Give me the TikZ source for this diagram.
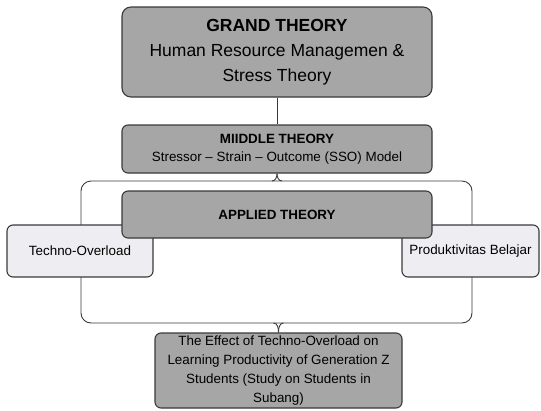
\documentclass[tikz,border=0pt]{standalone}
\usepackage{fontspec}
\setmainfont{Liberation Sans}
\definecolor{darkfill}{HTML}{A6A6A6}
\definecolor{lightfill}{HTML}{EEEEF2}
\definecolor{edge}{HTML}{3A3A3A}
\tikzset{
  box/.style={draw=edge, line width=1.1pt, fill=darkfill, rounded corners=6pt, inner sep=0pt, align=center, text=black},
  lightbox/.style={box, fill=lightfill},
  brace/.style={draw=edge, line width=0.9pt},
  big/.style={font=\fontsize{17.5}{25}\selectfont},
  small/.style={font=\fontsize{13.4}{18.3}\selectfont},
}
\begin{document}
\begin{tikzpicture}[x=1pt,y=-1pt]
\useasboundingbox (0,0) rectangle (541,410);
% brace behind everything
\coordinate (tl) at (81,181);
\coordinate (br) at (472,323);
\draw[brace, rounded corners=10pt] (tl) rectangle (br);
\node[box, big, rounded corners=9pt, minimum width=310pt, minimum height=90pt] (grand) at (277,52)
  {\textbf{GRAND THEORY}\\Human Resource Managemen \&\\Stress Theory};
\node[box, small, minimum width=310pt, minimum height=48pt] (middle) at (277,149)
  {\textbf{MIIDDLE THEORY}\\Stressor – Strain – Outcome (SSO) Model};
\node[box, small, minimum width=247pt, minimum height=75pt, font=\fontsize{13.4}{19.3}\selectfont] (bottom) at (278.5,370.5)
  {The Effect of Techno-Overload on\\Learning Productivity of Generation Z\\Students (Study on Students in\\Subang)};
\draw[brace] (grand.south) -- (middle.north);
\draw[brace] (middle.south) to[out=-90,in=0] ([xshift=-5pt]middle.south |- tl);
\draw[brace] (middle.south) to[out=-90,in=180] ([xshift=5pt]middle.south |- tl);
\draw[brace] (bottom.north) to[out=90,in=0] ([xshift=-5pt]bottom.north |- br);
\draw[brace] (bottom.north) to[out=90,in=180] ([xshift=5pt]bottom.north |- br);
\node[lightbox, small, minimum width=146pt, minimum height=52pt] (techno) at (80,251) {Techno-Overload};
\node[lightbox, small, minimum width=137pt, minimum height=52pt] (produk) at (470.5,251) {Produktivitas Belajar};
\node[box, small, minimum width=310pt, minimum height=47pt] (applied) at (277,214.5) {\textbf{APPLIED THEORY}};
\end{tikzpicture}
\end{document}
